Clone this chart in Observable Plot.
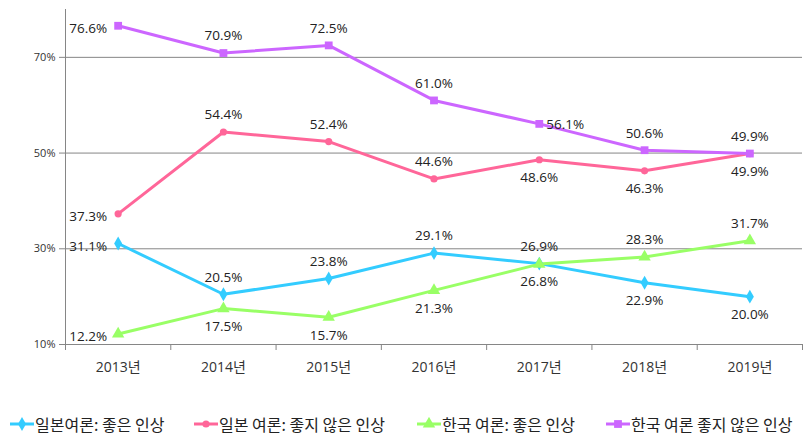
<!DOCTYPE html>
<html><head><meta charset="utf-8">
<script src="https://cdn.jsdelivr.net/npm/d3@7"></script>
<script src="https://cdn.jsdelivr.net/npm/@observablehq/plot@0.6"></script>
<style>
body{margin:0;background:#fff;}
#wrap{position:relative;width:810px;height:435px;overflow:hidden;}
.leg{position:absolute;top:412px;height:24px;display:flex;align-items:center;font-family:"Noto Sans CJK KR",sans-serif;font-size:16px;color:#222;white-space:nowrap;}
.leg svg{margin-right:1px;}
</style>
</head><body><div id="wrap"></div>
<script>
const years = [2013, 2014, 2015, 2016, 2017, 2018, 2019];
const seriesNames = ["일본여론: 좋은 인상", "일본 여론: 좋지 않은 인상", "한국 여론: 좋은 인상", "한국 여론 좋지 않은 인상"];
const japanGood = [31.1, 20.5, 23.8, 29.1, 26.9, 22.9, 20.0];
const japanBad  = [37.3, 54.4, 52.4, 44.6, 48.6, 46.3, 49.9];
const koreaGood = [12.2, 17.5, 15.7, 21.3, 26.8, 28.3, 31.7];
const koreaBad  = [76.6, 70.9, 72.5, 61.0, 56.1, 50.6, 49.9];
const yTicks = [10, 30, 50, 70];

// presentation (not data)
const colors = ["#33CCFF", "#FF6699", "#99FF66", "#CC66FF"];
const symbols = ["diamond", "circle", "triangle", "square"];
const sizes = [4.2, 3.6, 4.6, 4.4];
const placement = [
  ["left","above","above","above","above","below","below"],
  ["left","above","above","above","below","below","below"],
  ["left","below","below","below","below","above","above"],
  ["left","above","above","above","right","above","above"]
];

const allSeries = [japanGood, japanBad, koreaGood, koreaBad];
const data = [];
allSeries.forEach((vals, si) => vals.forEach((v, i) => data.push({
  year: years[i], value: v, series: seriesNames[si], si, pos: placement[si][i]
})));

const x0 = years[0] - 0.5, x1 = years[years.length - 1] + 0.5;
const boundaries = d3.range(x0, x1 + 0.01, 1);
const axisColor = "#868686";
const numFont = "'Open Sans', sans-serif";
const fs = 13.5;

const chart = Plot.plot({
  width: 810,
  height: 405,
  marginLeft: 65,
  marginRight: 8,
  marginTop: 9,
  marginBottom: 61,
  style: {fontFamily: "'Open Sans','Noto Sans CJK KR',sans-serif", color: "#333", background: "#fff"},
  x: {type: "linear", domain: [x0, x1]},
  y: {domain: [10, 80]},
  color: {domain: seriesNames, range: colors},
  symbol: {domain: seriesNames, range: symbols},
  marks: [
    Plot.ruleY(yTicks.filter(t => t > 10), {stroke: axisColor, strokeWidth: 1}),
    Plot.ruleY([10], {stroke: axisColor, strokeWidth: 1}),
    Plot.ruleX([x0], {y1: 10, y2: 80, stroke: axisColor, strokeWidth: 1}),
    Plot.axisY(yTicks, {tickFormat: d => d + "%", tickSize: 6, tickPadding: 4, stroke: axisColor, fontSize: 11, color: "#333", label: null}),
    Plot.axisX(boundaries, {tickFormat: () => "", tickSize: 6, stroke: axisColor, label: null}),
    Plot.axisX(years, {tickFormat: d => d + "년", tickSize: 0, tickPadding: 18, fontSize: 14, label: null, fontFamily: "'Open Sans','Noto Sans CJK KR',sans-serif"}),
    Plot.line(data, {x: "year", y: "value", z: "series", stroke: "series", strokeWidth: 3}),
    ...seriesNames.map((s, si) => Plot.dot(data.filter(d => d.si === si), {x: "year", y: "value", symbol: "series", fill: "series", r: sizes[si], stroke: null})),
    Plot.text(data, {filter: d => d.pos === "above", x: "year", y: "value", text: d => d.value.toFixed(1) + "%", dy: -17, fontSize: fs, fill: "#222", fontFamily: numFont}),
    Plot.text(data, {filter: d => d.pos === "below", x: "year", y: "value", text: d => d.value.toFixed(1) + "%", dy: 18, fontSize: fs, fill: "#222", fontFamily: numFont}),
    Plot.text(data, {filter: d => d.pos === "left", x: "year", y: "value", text: d => d.value.toFixed(1) + "%", dx: -11, dy: 3, textAnchor: "end", fontSize: fs, fill: "#222", fontFamily: numFont}),
    Plot.text(data, {filter: d => d.pos === "right", x: "year", y: "value", text: d => d.value.toFixed(1) + "%", dx: 7, dy: 1, textAnchor: "start", fontSize: fs, fill: "#222", fontFamily: numFont})
  ]
});

const wrap = document.getElementById("wrap");
wrap.appendChild(chart);

// legend
const legX = [10, 194, 417, 606];
seriesNames.forEach((s, si) => {
  const div = document.createElement("div");
  div.className = "leg";
  div.style.left = legX[si] + "px";
  const sw = d3.create("svg").attr("width", 24).attr("height", 14);
  sw.append("line").attr("x1", 0).attr("x2", 24).attr("y1", 7).attr("y2", 7).attr("stroke", colors[si]).attr("stroke-width", 3);
  const symMap = {diamond: d3.symbolDiamond, circle: d3.symbolCircle, triangle: d3.symbolTriangle, square: d3.symbolSquare};
  sw.append("path").attr("transform", "translate(12,7)")
    .attr("d", d3.symbol(symMap[symbols[si]], Math.PI * sizes[si] * sizes[si])())
    .attr("fill", colors[si]);
  div.appendChild(sw.node());
  const t = document.createElement("span");
  t.textContent = s;
  div.appendChild(t);
  wrap.appendChild(div);
});
</script>
</body></html>
